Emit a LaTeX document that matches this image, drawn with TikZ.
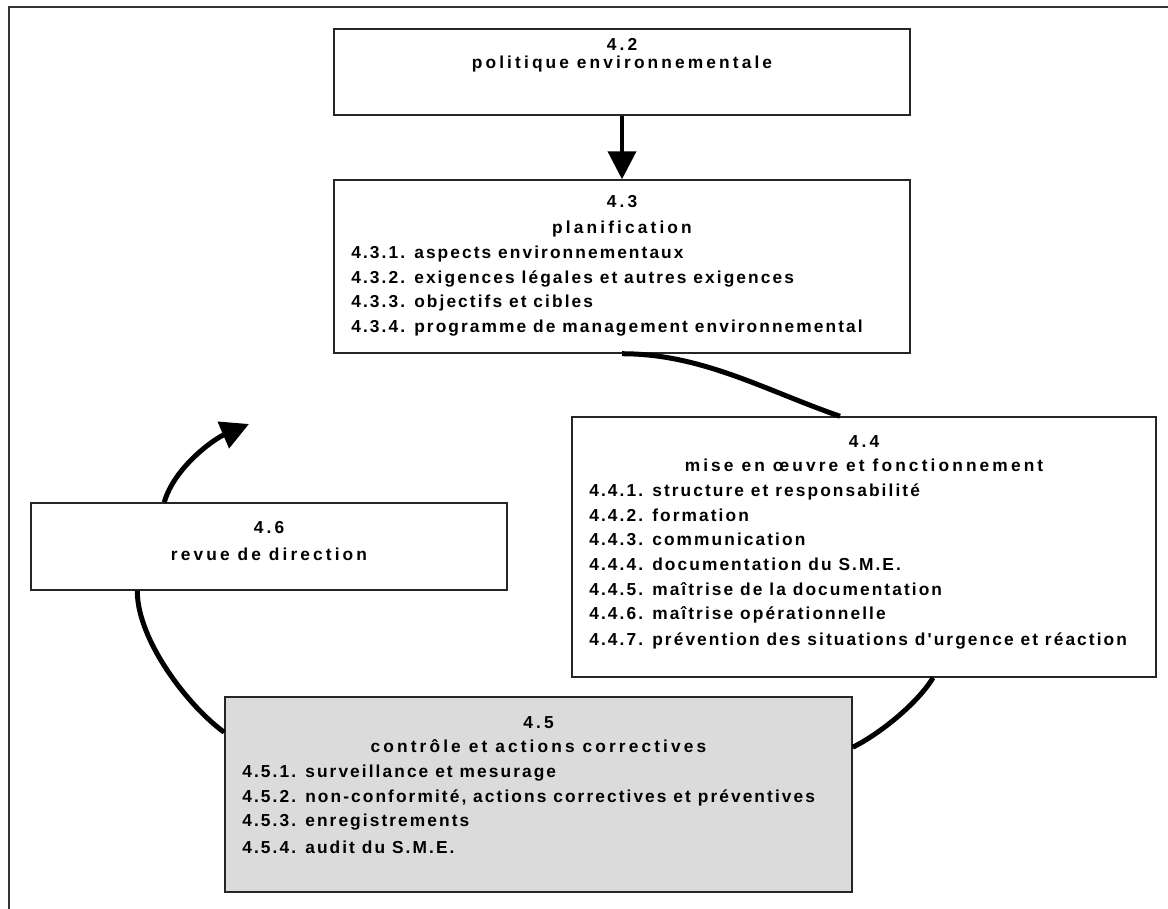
\documentclass[tikz,border=0pt]{standalone}
\usepackage{fontspec}
\setmainfont{Liberation Sans}
\newfontfamily\titlefam[LetterSpace=18]{Liberation Sans}
\newfontfamily\itemfam[LetterSpace=12]{Liberation Sans}
\newcommand{\titlefont}{\titlefam\bfseries\fontsize{13pt}{18.5pt}\selectfont}
\newcommand{\itemfont}{\itemfam\bfseries\fontsize{13pt}{18.5pt}\selectfont}
\newcommand{\blocktext}[3]{\parbox[c][#2][t]{#1}{#3}}
\usetikzlibrary{arrows.meta}

\begin{document}
\begin{tikzpicture}[x=0.75pt,y=-0.75pt,
    block/.style={draw=black!85,line width=1.1pt,fill=white,inner sep=0pt},
    grayblock/.style={block,fill=black!14},
    loopline/.style={line width=3.75pt},
    pointed/.style={-{Triangle[length=21pt,width=21pt]}}]
\useasboundingbox (0,0) rectangle (1168,909);
% frame
\draw[black!80,line width=1.2pt] (9,909) -- (9,7) -- (1168,7);

\node[block] (pol) at (622,72) {\blocktext{432pt}{64.5pt}{%
  {\centering\titlefont\rule{0pt}{16.5pt}4.2\\[-5.5pt]
   politique environnementale\par}}};

\node[block] (plan) at (622,266.5) {\blocktext{432pt}{129.75pt}{%
  {\centering\titlefont\rule{0pt}{21pt}4.3\\[1pt]
   planification\par}
  {\itemfont\leftskip=13pt
   4.3.1. aspects environnementaux\\
   4.3.2. exigences légales et autres exigences\\
   4.3.3. objectifs et cibles\\
   4.3.4. programme de management environnemental\par}}};

\node[block] (mise) at (864,547) {\blocktext{438pt}{195pt}{%
  {\centering\titlefont\rule{0pt}{22.5pt}4.4\\
   mise en œuvre et fonctionnement\par}
  {\itemfont\leftskip=13pt
   4.4.1. structure et responsabilité\\
   4.4.2. formation\\
   4.4.3. communication\\
   4.4.4. documentation du S.M.E.\\
   4.4.5. maîtrise de la documentation\\
   4.4.6. maîtrise opérationnelle\\[1pt]
   4.4.7. prévention des situations d'urgence et réaction\par}}};

\node[grayblock] (ctrl) at (538.5,794.5) {\blocktext{470.25pt}{146.25pt}{%
  {\centering\titlefont\rule{0pt}{23.25pt}4.5\\
   contrôle et actions correctives\par}
  {\itemfont\leftskip=13pt
   4.5.1. surveillance et mesurage\\
   4.5.2. non-conformité, actions correctives et préventives\\
   4.5.3. enregistrements\\[1.5pt]
   4.5.4. audit du S.M.E.\par}}};

\node[block] (revue) at (269,546.5) {\blocktext{357pt}{65.25pt}{%
  {\centering\titlefont\rule{0pt}{22.5pt}4.6\\[1.75pt]
   revue de direction\par}}};

% links
\draw[line width=3pt,pointed] (pol) -- (plan);
\draw[loopline] (plan.south) .. controls +(80,0) and +(-75,-26) .. ([xshift=-18pt]mise.north);
\draw[loopline] ([xshift=51.75pt]mise.south) .. controls +(-15,25) and +(28,-14) .. ([yshift=-38.25pt]ctrl.north east);
\draw[loopline] ([yshift=-27pt]ctrl.north west) .. controls +(-35,-25) and +(0,50) .. ([xshift=80.25pt]revue.south west);
\coordinate (back) at (249,424);
\draw[loopline,pointed] ([xshift=100.5pt]revue.north west) .. controls +(10,-35) and +(-35,15) .. (back);
\end{tikzpicture}
\end{document}
